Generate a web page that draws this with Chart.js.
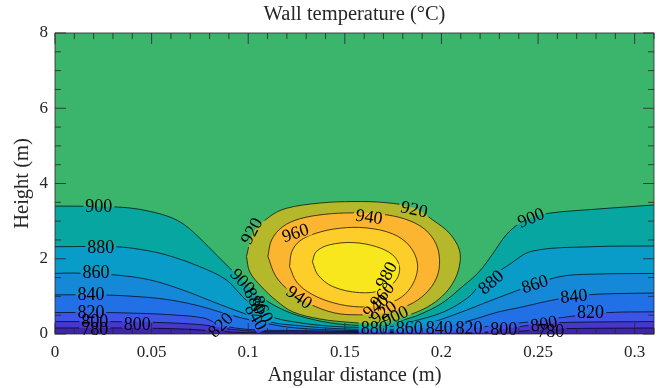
<!DOCTYPE html>
<html>
<head>
<meta charset="utf-8">
<script src="https://cdn.jsdelivr.net/npm/chart.js@4.4.1/dist/chart.umd.min.js"></script>
<style>
  html, body { margin: 0; padding: 0; background: #fff; }
</style>
</head>
<body>
<canvas id="chart" width="662" height="388"></canvas>
<script>
// Axis ticks
const xTicks = [0, 0.05, 0.1, 0.15, 0.2, 0.25, 0.3];
const yTicks = [0, 2, 4, 6, 8];

// Contour levels (°C). Open curves span the whole width, the colour is the band below them.
const openLevels = [900, 880, 860, 840, 820, 800, 780];
const openColors = ['#08a6a0', '#0a9cc8', '#1688d8', '#2270e6', '#3d55e6', '#4638cc', '#3e26a8'];
// Closed curves around the hot spot, the colour is the band inside them.
const loopLevels = [920, 940, 960, 980];
const loopColors = ['#b4b82a', '#fbb531', '#fdcd2a', '#f7e71c'];
const topColor = '#3cb56c'; // 900-920 band, fills the rest of the plot

// Contour curves: [angular distance (m), height (m)]
const c900 = [[0,3.40],[0.0232,3.39],[0.0387,3.35],[0.049,3.26],[0.0594,3.11],[0.0671,2.90],[0.0749,2.55],[0.0836,2.10],[0.0903,1.76],[0.0981,1.36],[0.1058,1.01],[0.1162,0.69],[0.1265,0.48],[0.142,0.30],[0.1575,0.23],[0.1714,0.25],[0.1807,0.38],[0.1884,0.51],[0.2003,0.82],[0.2106,1.25],[0.2194,1.65],[0.2261,2.10],[0.2334,2.63],[0.2401,2.93],[0.2478,3.11],[0.2571,3.22],[0.2778,3.31],[0.31,3.43]];
const c880 = [[0,2.32],[0.031,2.32],[0.0439,2.25],[0.0577,2.10],[0.0749,1.79],[0.0886,1.44],[0.0971,0.99],[0.1048,0.64],[0.1136,0.43],[0.1265,0.30],[0.142,0.21],[0.1626,0.17],[0.1729,0.19],[0.1833,0.31],[0.2013,0.59],[0.2143,0.99],[0.2194,1.28],[0.2272,1.57],[0.2349,1.84],[0.2468,2.20],[0.2778,2.32],[0.31,2.34]];
const c860 = [[0,1.61],[0.0103,1.62],[0.031,1.57],[0.049,1.44],[0.0661,1.17],[0.0836,0.82],[0.0971,0.56],[0.111,0.32],[0.1265,0.22],[0.1471,0.14],[0.1729,0.12],[0.1781,0.14],[0.1936,0.29],[0.2091,0.56],[0.2261,0.90],[0.2401,1.17],[0.2607,1.52],[0.2778,1.59],[0.31,1.61]];
const c840 = [[0,1.04],[0.0232,1.04],[0.0439,0.99],[0.0602,0.90],[0.0758,0.73],[0.0903,0.51],[0.1058,0.32],[0.1213,0.18],[0.142,0.11],[0.1781,0.085],[0.1936,0.16],[0.2117,0.32],[0.2297,0.59],[0.2401,0.70],[0.2555,0.88],[0.2685,1.00],[0.2814,1.06],[0.31,1.09]];
const c820 = [[0,0.57],[0.0258,0.57],[0.0429,0.55],[0.0602,0.51],[0.0774,0.42],[0.0852,0.24],[0.1007,0.12],[0.1265,0.09],[0.1575,0.065],[0.1781,0.06],[0.2003,0.08],[0.2143,0.14],[0.2297,0.24],[0.2468,0.33],[0.2674,0.47],[0.2865,0.57],[0.31,0.59]];
const c800 = [[0,0.33],[0.0258,0.33],[0.0516,0.31],[0.0774,0.24],[0.0903,0.13],[0.1058,0.07],[0.1265,0.06],[0.1575,0.045],[0.2194,0.045],[0.2246,0.06],[0.2401,0.19],[0.2504,0.27],[0.2659,0.31],[0.31,0.33]];
const c780 = [[0,0.16],[0.0387,0.16],[0.0671,0.13],[0.0852,0.07],[0.1007,0.035],[0.13,0.025],[0.2194,0.025],[0.2297,0.04],[0.2452,0.09],[0.2607,0.14],[0.31,0.16]];
const c920 = [[0.0991,2.06],[0.1025,2.68],[0.1111,3.12],[0.1197,3.34],[0.137,3.48],[0.1542,3.52],[0.1714,3.49],[0.186,3.35],[0.1955,3.03],[0.2041,2.68],[0.2093,2.23],[0.2093,1.81],[0.2062,1.38],[0.2005,1.01],[0.1928,0.72],[0.1835,0.51],[0.1731,0.35],[0.1628,0.29],[0.1525,0.31],[0.137,0.40],[0.123,0.59],[0.1147,0.88],[0.107,1.25],[0.1008,1.65],[0.0991,2.06]];
const c940 = [[0.1102,2.06],[0.1121,2.50],[0.1178,2.85],[0.1266,3.06],[0.1395,3.18],[0.154,3.22],[0.168,3.19],[0.1809,3.06],[0.1912,2.79],[0.1974,2.37],[0.199,1.84],[0.1964,1.38],[0.1897,0.98],[0.1809,0.72],[0.1705,0.56],[0.1576,0.51],[0.1447,0.56],[0.1318,0.80],[0.1214,1.14],[0.1142,1.54],[0.1102,2.06]];
const c960 = [[0.1214,1.79],[0.1225,2.18],[0.1266,2.47],[0.1352,2.68],[0.1473,2.81],[0.1611,2.82],[0.1748,2.66],[0.1835,2.34],[0.1876,1.86],[0.1855,1.36],[0.1793,0.98],[0.1695,0.77],[0.1576,0.72],[0.1447,0.82],[0.1328,1.06],[0.1251,1.38],[0.1214,1.79]];
const c980 = [[0.1332,1.92],[0.1352,2.19],[0.1421,2.37],[0.1542,2.43],[0.1663,2.32],[0.1748,2.10],[0.1783,1.79],[0.1766,1.44],[0.1697,1.17],[0.1576,1.10],[0.1438,1.26],[0.1361,1.57],[0.1332,1.92]];
const openCurves = [c900, c880, c860, c840, c820, c800, c780];
const loopCurves = [c920, c940, c960, c980];

// Inline contour labels: [level, x, y, rotation in degrees]
const contourLabels = [
  [900, 0.0227, 3.40, 0], [880, 0.0237, 2.31, 0], [860, 0.0212, 1.63, 0], [840, 0.0186, 1.05, 0],
  [820, 0.0186, 0.59, 0], [800, 0.0206, 0.33, 0], [780, 0.0206, 0.12, 0], [800, 0.0426, 0.26, 0],
  [900, 0.0971, 1.41, 47], [920, 0.1017, 2.74, -62], [960, 0.1244, 2.69, -18], [940, 0.1626, 3.12, 8],
  [920, 0.1859, 3.32, 12], [940, 0.1265, 0.98, 35], [880, 0.1035, 0.88, 62], [860, 0.1075, 0.66, 65],
  [840, 0.1040, 0.45, 60], [820, 0.0857, 0.24, -45],
  [980, 0.1714, 1.57, -62], [960, 0.1693, 1.04, -50], [940, 0.1660, 0.74, -40], [920, 0.1700, 0.58, -35],
  [900, 0.1760, 0.48, -25],
  [880, 0.1652, 0.15, 0], [860, 0.1833, 0.15, 0], [840, 0.1988, 0.15, 0], [820, 0.2143, 0.15, 0],
  [800, 0.2323, 0.12, 0], [800, 0.2530, 0.28, -10], [780, 0.2566, 0.08, 0],
  [900, 0.2463, 3.09, -22], [880, 0.2256, 1.38, -40], [860, 0.2483, 1.33, -18], [840, 0.2685, 1.01, -6],
  [820, 0.2772, 0.59, 0]
];

const serif = '"Liberation Serif", "DejaVu Serif", serif';
const labelFont = '18px ' + serif;

// build datasets: open curves filled down to the axis, loops filled inside
const datasets = [];
openLevels.forEach((lv, i) => datasets.push({
  label: String(lv),
  data: openCurves[i].map(([x, y]) => ({x, y})),
  fill: 'origin',
  backgroundColor: openColors[i],
  borderColor: '#000',
  borderWidth: 0.7,
  pointRadius: 0,
  tension: 0.35,
  order: 20 - i
}));
loopLevels.forEach((lv, i) => datasets.push({
  label: String(lv),
  data: loopCurves[i].map(([x, y]) => ({x, y})),
  fill: 'shape',
  backgroundColor: loopColors[i],
  borderColor: '#000',
  borderWidth: 0.7,
  pointRadius: 0,
  tension: 0.35,
  order: 10 - i
}));

// label boxes in pixels
function labelBoxes(chart) {
  const {ctx, scales: {x, y}} = chart;
  ctx.save();
  ctx.font = labelFont;
  const boxes = contourLabels.map(([lv, vx, vy, ang]) => ({
    text: String(lv),
    px: x.getPixelForValue(vx),
    py: y.getPixelForValue(vy),
    ang: ang * Math.PI / 180,
    w: ctx.measureText(String(lv)).width + 4,
    h: 14
  }));
  ctx.restore();
  return boxes;
}

// green band behind everything
const bgPlugin = {
  id: 'bg',
  beforeDatasetsDraw(chart) {
    const {ctx, chartArea: a} = chart;
    ctx.save();
    ctx.fillStyle = topColor;
    ctx.fillRect(a.left, a.top, a.right - a.left, a.bottom - a.top);
    ctx.restore();
  }
};

// break the contour lines where the labels sit, then write the labels
const labelPlugin = {
  id: 'contourLabels',
  beforeDatasetDraw(chart) {
    const ctx = chart.ctx;
    ctx.save();
    labelBoxes(chart).forEach(b => {
      const c = Math.cos(b.ang), s = Math.sin(b.ang);
      ctx.beginPath();
      ctx.rect(0, 0, chart.width, chart.height);
      [[-1, -1], [1, -1], [1, 1], [-1, 1]].forEach(([u, v], k) => {
        const dx = u * b.w / 2, dy = v * b.h / 2;
        const X = b.px + dx * c - dy * s, Y = b.py + dx * s + dy * c;
        if (k) ctx.lineTo(X, Y); else ctx.moveTo(X, Y);
      });
      ctx.closePath();
      ctx.clip('evenodd');
    });
  },
  afterDatasetDraw(chart) {
    chart.ctx.restore();
  },
  afterDatasetsDraw(chart) {
    const ctx = chart.ctx;
    labelBoxes(chart).forEach(b => {
      ctx.save();
      ctx.translate(b.px, b.py);
      ctx.rotate(b.ang);
      ctx.font = labelFont;
      ctx.fillStyle = '#000';
      ctx.textAlign = 'center';
      ctx.textBaseline = 'middle';
      ctx.fillText(b.text, 0, 1);
      ctx.restore();
    });
  }
};

// box, inward major/minor ticks and the title
const framePlugin = {
  id: 'frame',
  afterDraw(chart) {
    const {ctx, chartArea: a, scales: {x, y}} = chart;
    ctx.save();
    ctx.strokeStyle = '#262626';
    ctx.lineWidth = 0.8;
    ctx.beginPath();
    for (let k = 0; k * 0.01 <= x.max + 1e-9; k++) {
      const len = k % 5 === 0 ? 11 : 6;
      const px = x.getPixelForValue(k * 0.01);
      ctx.moveTo(px, a.bottom); ctx.lineTo(px, a.bottom - len);
      ctx.moveTo(px, a.top); ctx.lineTo(px, a.top + len);
    }
    for (let k = 0; k * 0.5 <= y.max + 1e-9; k++) {
      const len = k % 4 === 0 ? 11 : 6;
      const py = y.getPixelForValue(k * 0.5);
      ctx.moveTo(a.left, py); ctx.lineTo(a.left + len, py);
      ctx.moveTo(a.right, py); ctx.lineTo(a.right - len, py);
    }
    ctx.stroke();
    ctx.strokeRect(a.left, a.top, a.right - a.left, a.bottom - a.top);
    ctx.fillStyle = '#262626';
    ctx.font = '20.5px ' + serif;
    ctx.textAlign = 'center';
    ctx.textBaseline = 'middle';
    ctx.fillText('Wall temperature (°C)', (a.left + a.right) / 2, 15);
    ctx.restore();
  }
};

new Chart(document.getElementById('chart'), {
  type: 'line',
  data: { datasets },
  options: {
    responsive: false,
    animation: false,
    layout: { padding: { top: 33, right: 8, left: 0, bottom: 0 } },
    plugins: {
      legend: { display: false },
      tooltip: { enabled: false },
      title: { display: false }
    },
    scales: {
      x: {
        type: 'linear',
        min: 0,
        max: 0.31,
        grid: { display: false, drawTicks: false },
        border: { display: false },
        afterBuildTicks: s => { s.ticks = xTicks.map(v => ({ value: v })); },
        afterFit: s => { s.height = 54; },
        ticks: { padding: 8, color: '#262626', font: { family: serif, size: 17 }, maxRotation: 0, autoSkip: false, callback: v => String(v) },
        title: { display: true, text: 'Angular distance (m)', color: '#262626', font: { family: serif, size: 20.5 }, padding: { top: 0, bottom: 0 } }
      },
      y: {
        type: 'linear',
        min: 0,
        max: 8,
        grid: { display: false, drawTicks: false },
        border: { display: false },
        afterBuildTicks: s => { s.ticks = yTicks.map(v => ({ value: v })); },
        afterFit: s => { s.width = 55; },
        ticks: { padding: 7, color: '#262626', font: { family: serif, size: 17 }, callback: v => String(v) },
        title: { display: true, text: 'Height (m)', color: '#262626', font: { family: serif, size: 20.5 }, padding: { top: 10, bottom: 0 } }
      }
    }
  },
  plugins: [bgPlugin, labelPlugin, framePlugin]
});
</script>
</body>
</html>
